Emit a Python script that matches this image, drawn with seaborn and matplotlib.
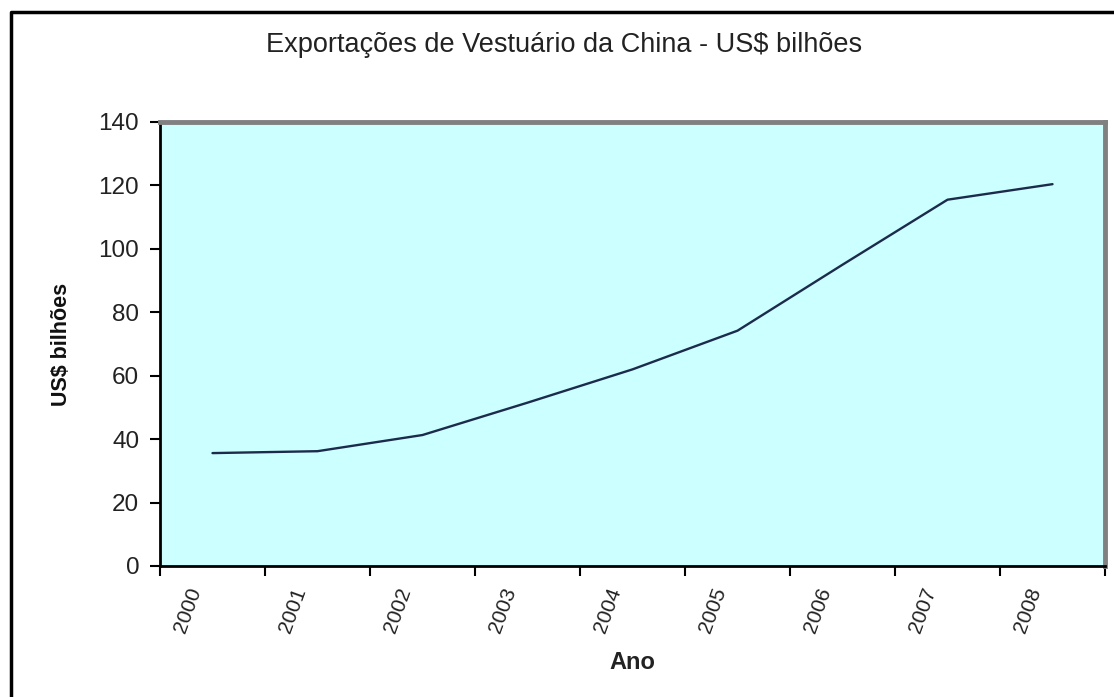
import matplotlib
matplotlib.use("Agg")
import matplotlib.pyplot as plt
import matplotlib.transforms as mtransforms
from matplotlib.lines import Line2D
import seaborn as sns
import numpy as np
import pandas as pd

years = ["2000", "2001", "2002", "2003", "2004", "2005", "2006", "2007", "2008"]
exports = [35.6, 36.2, 41.3, 51.5, 62.0, 74.2, 95.0, 115.5, 120.4]
yticks = [0, 20, 40, 60, 80, 100, 120, 140]
title = "Exportações de Vestuário da China - US$ bilhões"
xlabel = "Ano"
ylabel = "US$ bilhões"

sns.set_theme(style="white")
plt.rcParams["font.family"] = ["Liberation Sans", "DejaVu Sans"]

W, H = 1114, 697
fig = plt.figure(figsize=(W / 100, H / 100), dpi=100)
fig.patch.set_facecolor("white")
ax = fig.add_axes([160 / W, 1 - 566 / H, (1105 - 160) / W, (566 - 122) / H])
ax.set_facecolor("#CCFFFF")

df = pd.DataFrame({"idx": np.arange(len(years)), "valor": exports})
sns.lineplot(data=df, x="idx", y="valor", ax=ax, color="#1c2b4c", linewidth=1.7)

ax.set_xlim(-0.5, len(years) - 0.5)
ax.set_ylim(0, 140)
ax.set_yticks(yticks)
ax.set_yticklabels([str(v) for v in yticks], fontsize=17.5, color="#222222")
ax.tick_params(axis="y", which="major", direction="out", length=7, width=1.5,
               color="black", pad=8, left=True)

# category labels at centres, tick marks at boundaries
ax.set_xticks(np.arange(len(years)))
ax.set_xticklabels(years, fontsize=15, color="#222222", rotation=70,
                   ha="right", va="center", rotation_mode="anchor")
ax.set_xticks(np.arange(len(years) + 1) - 0.5, minor=True)
ax.tick_params(axis="x", which="major", length=0, pad=16, bottom=True)
ax.tick_params(axis="x", which="minor", direction="out", length=7, width=1.5,
               color="black", bottom=True)
shift = mtransforms.ScaledTranslation(-0.17, 0, fig.dpi_scale_trans)
for lbl in ax.get_xticklabels():
    lbl.set_transform(lbl.get_transform() + shift)

for side in ["left", "bottom"]:
    ax.spines[side].set_color("black")
    ax.spines[side].set_linewidth(2)
for side in ["top", "right"]:
    ax.spines[side].set_color("#808080")
    ax.spines[side].set_linewidth(3.5)
ax.grid(False)

ax.set_xlabel(xlabel, fontsize=17, fontweight="bold", color="#222222")
ax.set_ylabel(ylabel, fontsize=15.5, fontweight="bold", color="#111111")
ax.xaxis.set_label_coords((632 - 160) / (1105 - 160), (566 - 651) / (566 - 122))
ax.yaxis.set_label_coords((72 - 160) / (1105 - 160), 0.5)

fig.text(564 / W, 1 - 45 / H, title, fontsize=19.5, color="#222222",
         ha="center", va="center")

# outer frame (left and top visible)
fig.add_artist(Line2D([11 / W, 11 / W, 1.0], [0.0, 1 - 12 / H, 1 - 12 / H],
                      transform=fig.transFigure, color="black", linewidth=2.5))

fig.savefig("out.png", dpi=100)
